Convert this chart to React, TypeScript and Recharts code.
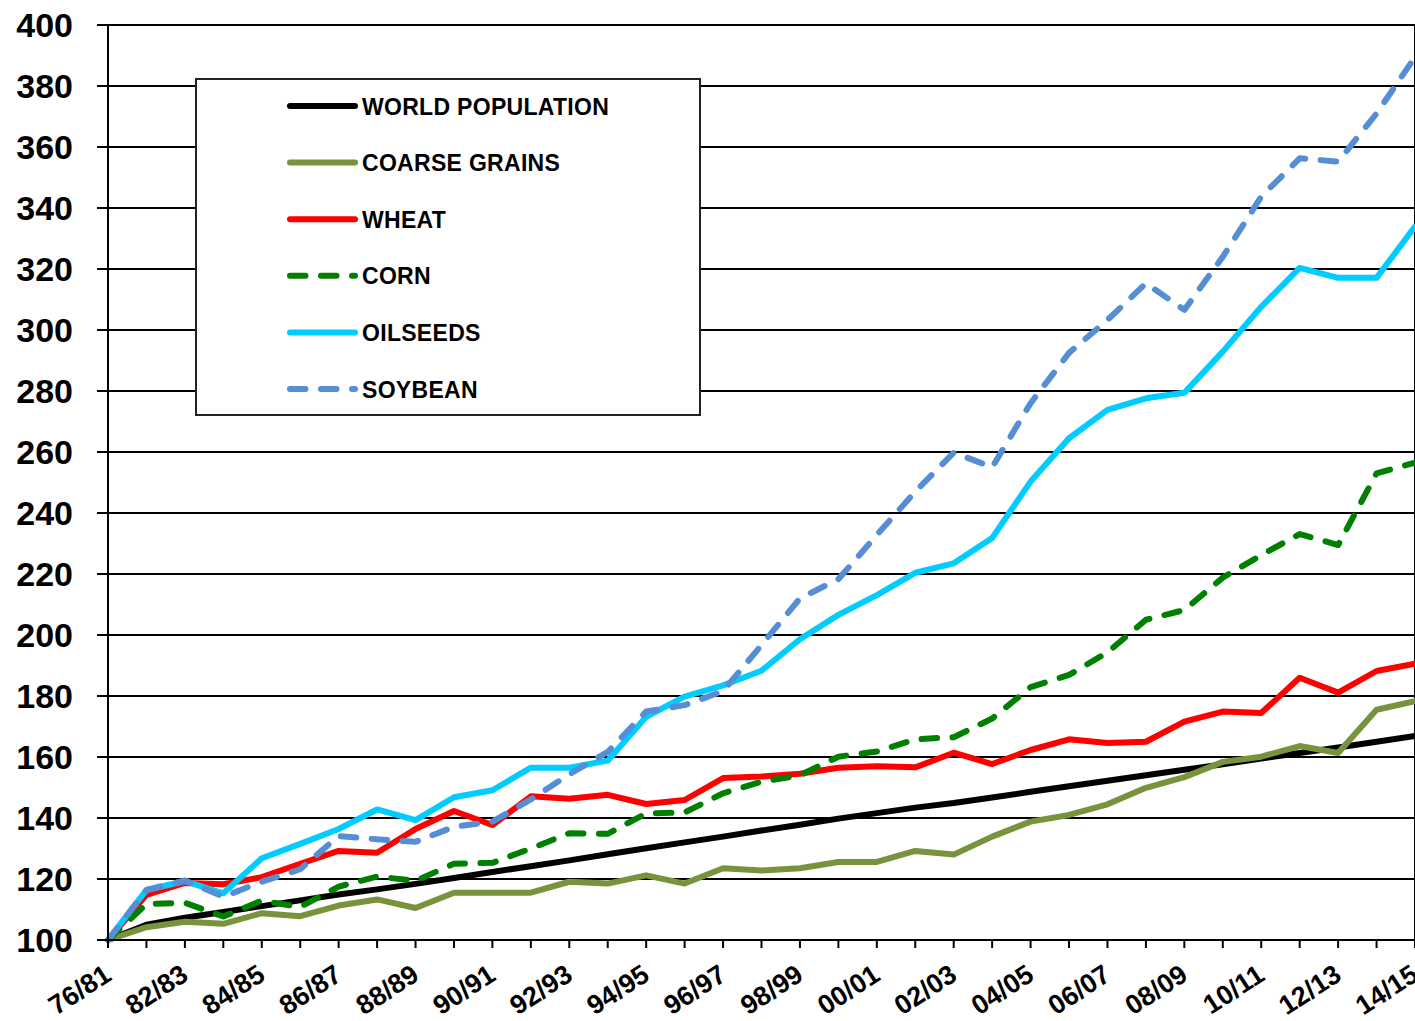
import { LineChart, Line, XAxis, YAxis, CartesianGrid, Legend, ReferenceLine } from 'recharts'

const FONT = '"Liberation Sans", Arial, sans-serif'

const seasons = [
  '76/81', '81/82', '82/83', '83/84', '84/85', '85/86', '86/87', '87/88', '88/89', '89/90',
  '90/91', '91/92', '92/93', '93/94', '94/95', '95/96', '96/97', '97/98', '98/99', '99/00',
  '00/01', '01/02', '02/03', '03/04', '04/05', '05/06', '06/07', '07/08', '08/09', '09/10',
  '10/11', '11/12', '12/13', '13/14', '14/15',
]

const worldPopulation = [
  100, 105, 107.3, 109.2, 111.1, 113, 114.9, 116.6, 118.4, 120.3,
  122.3, 124.2, 126.1, 128.1, 130.1, 132, 133.9, 135.9, 137.8, 139.8,
  141.6, 143.4, 144.9, 146.7, 148.6, 150.4, 152.2, 154, 155.8, 157.6,
  159.5, 161.3, 163.1, 165, 166.9,
]
const coarseGrains = [
  100, 104.2, 106, 105.3, 108.8, 107.8, 111.3, 113.3, 110.5, 115.5,
  115.5, 115.5, 119.1, 118.5, 121.2, 118.5, 123.5, 122.8, 123.5, 125.6,
  125.6, 129.2, 128, 133.9, 138.8, 141, 144.5, 149.9, 153.4, 158.4,
  160.1, 163.6, 161.3, 175.5, 178.3,
]
const wheat = [
  100, 114.8, 118.7, 118.3, 120.6, 125, 129.2, 128.6, 136.4, 142.3,
  137.7, 147.1, 146.3, 147.6, 144.6, 145.9, 153.1, 153.6, 154.5, 156.5,
  157, 156.6, 161.4, 157.7, 162.3, 165.8, 164.6, 165, 171.6, 174.9,
  174.4, 186, 181.1, 188.2, 190.6,
]
const corn = [
  100, 111.8, 112.2, 107.7, 112.9, 110.8, 117.5, 120.8, 119.4, 125,
  125.3, 130, 135, 134.8, 141.5, 141.8, 148.1, 151.9, 154, 160.1,
  161.8, 165.8, 166.5, 172.6, 182.9, 186.9, 194.3, 205, 208.2, 218.8,
  226.2, 233.1, 229.5, 253, 256.5,
]
const oilseeds = [
  100, 116.4, 119.3, 115.3, 126.8, 131.5, 136.4, 142.8, 139.3, 146.8,
  149.1, 156.5, 156.5, 158.8, 173.2, 179.8, 183.5, 188.3, 198.6, 206.6,
  213.1, 220.4, 223.5, 231.8, 250.3, 264.5, 273.8, 277.6, 279.4, 292.9,
  307.6, 320.4, 317.1, 317.1, 333.9,
]
const soybean = [
  100, 116.4, 119.5, 114.2, 119.1, 123.2, 134.1, 133, 132.2, 137.1,
  138.8, 146.1, 154.3, 161.7, 174.9, 177, 181.6, 196.7, 212, 218.3,
  232.8, 247, 259.8, 255, 276, 292.5, 303.3, 315.3, 306.6, 324,
  343.7, 356.3, 355.2, 371, 389.5,
]

const yTicks = [100, 120, 140, 160, 180, 200, 220, 240, 260, 280, 300, 320, 340, 360, 380, 400]

const series = [
  { key: 'world', name: 'WORLD POPULATION', color: '#000000', dashed: false },
  { key: 'coarse', name: 'COARSE GRAINS', color: '#77933C', dashed: false },
  { key: 'wheat', name: 'WHEAT', color: '#FF0000', dashed: false },
  { key: 'corn', name: 'CORN', color: '#008000', dashed: true },
  { key: 'oilseeds', name: 'OILSEEDS', color: '#00CCFF', dashed: false },
  { key: 'soybean', name: 'SOYBEAN', color: '#558ED5', dashed: true },
]

const data = seasons.map((season, i) => ({
  season,
  world: worldPopulation[i],
  coarse: coarseGrains[i],
  wheat: wheat[i],
  corn: corn[i],
  oilseeds: oilseeds[i],
  soybean: soybean[i],
}))

const DASH = '15.5 15.5'

// every category gets a tick mark, only every other one a label
function SeasonTick(props: any) {
  const { x, y, payload, index } = props
  const i = typeof index === 'number' ? index : payload?.index
  if (i % 2 !== 0) return <g />
  return (
    <g transform={`translate(${x + 5},${y + 31})`}>
      <text
        textAnchor="end"
        transform="rotate(-33)"
        fontSize={27}
        fontWeight="bold"
        fontFamily={FONT}
        fill="#000"
      >
        {payload.value}
      </text>
    </g>
  )
}

function LegendBox() {
  return (
    <svg width={506} height={338} style={{ display: 'block' }}>
      <rect x={1} y={1} width={504} height={336} fill="#fff" stroke="#222" strokeWidth={2} />
      {series.map((s, i) => {
        const cy = 28 + i * 56.6
        return (
          <g key={s.key}>
            <line
              x1={95}
              x2={160}
              y1={cy}
              y2={cy}
              stroke={s.color}
              strokeWidth={6}
              strokeLinecap="round"
              strokeDasharray={s.dashed ? DASH : undefined}
            />
            <text
              x={167}
              y={cy + 8.5}
              fontSize={23}
              fontWeight="bold"
              fontFamily={FONT}
              letterSpacing={0.3}
              fill="#000"
            >
              {s.name}
            </text>
          </g>
        )
      })}
    </svg>
  )
}

export default function App() {
  return (
    <div style={{ position: 'absolute', left: 0, top: 0, background: '#fff' }}>
      <LineChart width={1415} height={1021} data={data} margin={{ top: 25, right: 0, bottom: 0, left: 0 }}>
        <CartesianGrid vertical={false} stroke="#000" strokeWidth={2} />
        <XAxis
          dataKey="season"
          interval={0}
          height={81}
          tickSize={8}
          tickMargin={0}
          tick={SeasonTick}
          axisLine={{ stroke: '#000', strokeWidth: 2 }}
          tickLine={{ stroke: '#000', strokeWidth: 2 }}
        />
        <YAxis
          domain={[100, 400]}
          ticks={yTicks}
          interval={0}
          width={108}
          tickSize={11}
          tickMargin={24}
          tick={{ fontSize: 34, fontWeight: 'bold', fill: '#000', fontFamily: FONT }}
          axisLine={{ stroke: '#000', strokeWidth: 2 }}
          tickLine={{ stroke: '#000', strokeWidth: 2 }}
        />
        <ReferenceLine x="14/15" stroke="#000" strokeWidth={2} />
        <Legend
          layout="vertical"
          align="center"
          verticalAlign="middle"
          wrapperStyle={{ left: 195, top: 78, width: 506, height: 338 }}
          content={() => <LegendBox />}
        />
        {series.map((s) => (
          <Line
            key={s.key}
            type="linear"
            dataKey={s.key}
            name={s.name}
            stroke={s.color}
            strokeWidth={6}
            strokeLinecap="round"
            strokeLinejoin="round"
            strokeDasharray={s.dashed ? DASH : undefined}
            dot={false}
            activeDot={false}
            isAnimationActive={false}
          />
        ))}
      </LineChart>
    </div>
  )
}
